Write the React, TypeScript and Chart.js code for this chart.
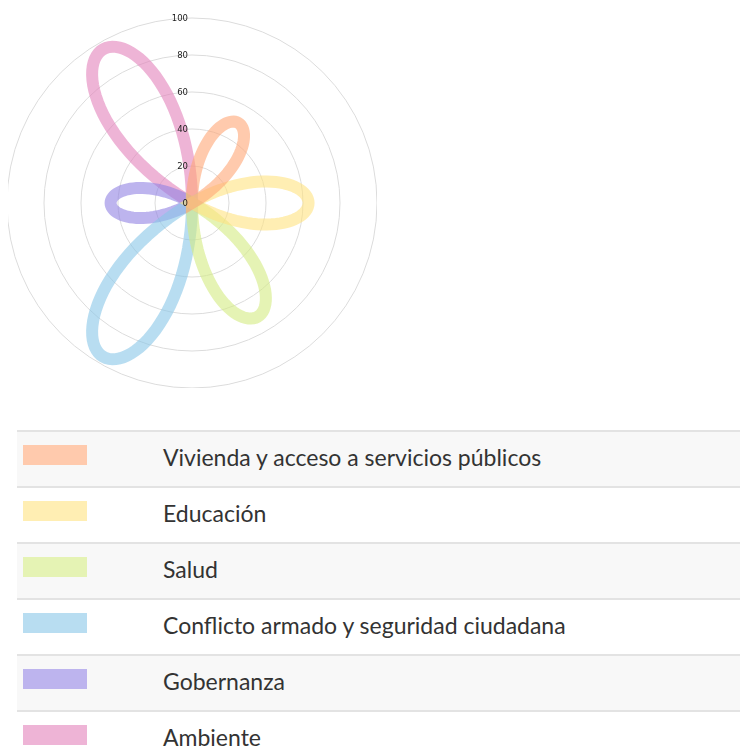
import React, { useEffect, useRef } from "react";
import { Chart, registerables } from "chart.js";

Chart.register(...registerables);

const categories = [
  "Vivienda y acceso a servicios públicos",
  "Educación",
  "Salud",
  "Conflicto armado y seguridad ciudadana",
  "Gobernanza",
  "Ambiente",
];
const values = [50, 63, 71, 96, 44, 96];
const tickValues = [0, 20, 40, 60, 80, 100];
const strokeColors = [
  "rgba(255,167,118,0.6)",
  "rgba(255,227,128,0.6)",
  "rgba(212,235,130,0.6)",
  "rgba(137,198,232,0.6)",
  "rgba(145,130,227,0.6)",
  "rgba(227,130,187,0.6)",
];
const swatchColors = ["#FFCAAD", "#FFEEB3", "#E5F3B4", "#B8DDF1", "#BDB4EE", "#EEB4D6"];

// hidden angular positions (one per degree) used to trace each petal
const angleLabels = Array.from({ length: 360 }, (_, i) => String(i));

function petalData(v: number, idx: number): number[] {
  const n = categories.length;
  const centre = (360 / n) * (idx + 0.5);
  const half = 180 / n;
  const k = 90 / half;
  return angleLabels.map((_, a) => {
    const d = ((a - centre + 540) % 360) - 180;
    if (Math.abs(d) > half) return 0;
    return Math.max(0, v * Math.cos((k * d * Math.PI) / 180));
  });
}

const tickPlugin = {
  id: "tickLabelsLeft",
  afterDatasetsDraw(chart: any) {
    const s = chart.scales.r;
    const ctx = chart.ctx;
    ctx.save();
    ctx.font = '8.5px "DejaVu Sans", sans-serif';
    ctx.fillStyle = "#222";
    ctx.textAlign = "right";
    ctx.textBaseline = "middle";
    tickValues.forEach((t) => {
      const y = s.yCenter - s.getDistanceFromCenterForValue(t);
      ctx.fillText(String(t), s.xCenter - 4, y + 1);
    });
    ctx.restore();
  },
};

export default function App() {
  const ref = useRef<HTMLCanvasElement | null>(null);
  useEffect(() => {
    if (!ref.current) return;
    const chart = new Chart(ref.current, {
      type: "radar",
      data: {
        labels: angleLabels,
        datasets: values.map((v, i) => ({
          label: categories[i],
          data: petalData(v, i),
          borderColor: strokeColors[i],
          backgroundColor: "rgba(0,0,0,0)",
          borderWidth: 12,
          fill: false,
          pointRadius: 0,
          pointHoverRadius: 0,
          tension: 0,
          borderJoinStyle: "miter" as const,
          borderCapStyle: "butt" as const,
        })),
      },
      options: {
        animation: false,
        responsive: true,
        maintainAspectRatio: false,
        layout: { padding: { top: 10 } },
        plugins: { legend: { display: false }, tooltip: { enabled: false } },
        scales: {
          r: {
            min: 0,
            max: 100,
            ticks: { stepSize: 20, display: false },
            grid: { circular: true, color: "#dcdcdc", lineWidth: 1 },
            angleLines: { display: false },
            pointLabels: { display: false },
          },
        },
      },
      plugins: [tickPlugin],
    });
    return () => chart.destroy();
  }, []);

  return (
    <div>
      <div style={{ position: "relative", width: 370, height: 380, marginLeft: -1 }}>
        <canvas ref={ref} />
      </div>
      <div
        style={{
          position: "absolute",
          left: 17,
          top: 430,
          width: 723,
          height: 317,
          overflow: "hidden",
          fontFamily: "Lato, sans-serif",
        }}
      >
        {categories.map((c, i) => (
          <div
            key={c}
            style={{
              boxSizing: "border-box",
              height: 56,
              borderTop: "2px solid #e3e3e3",
              background: i % 2 === 0 ? "#f8f8f8" : "#ffffff",
              position: "relative",
            }}
          >
            <div
              style={{
                position: "absolute",
                left: 6,
                top: 13,
                width: 64,
                height: 20,
                background: swatchColors[i],
              }}
            />
            <span
              style={{
                position: "absolute",
                left: 146,
                top: 13,
                fontSize: 23,
                lineHeight: "24px",
                color: "#333",
                whiteSpace: "nowrap",
              }}
            >
              {c}
            </span>
          </div>
        ))}
      </div>
    </div>
  );
}
